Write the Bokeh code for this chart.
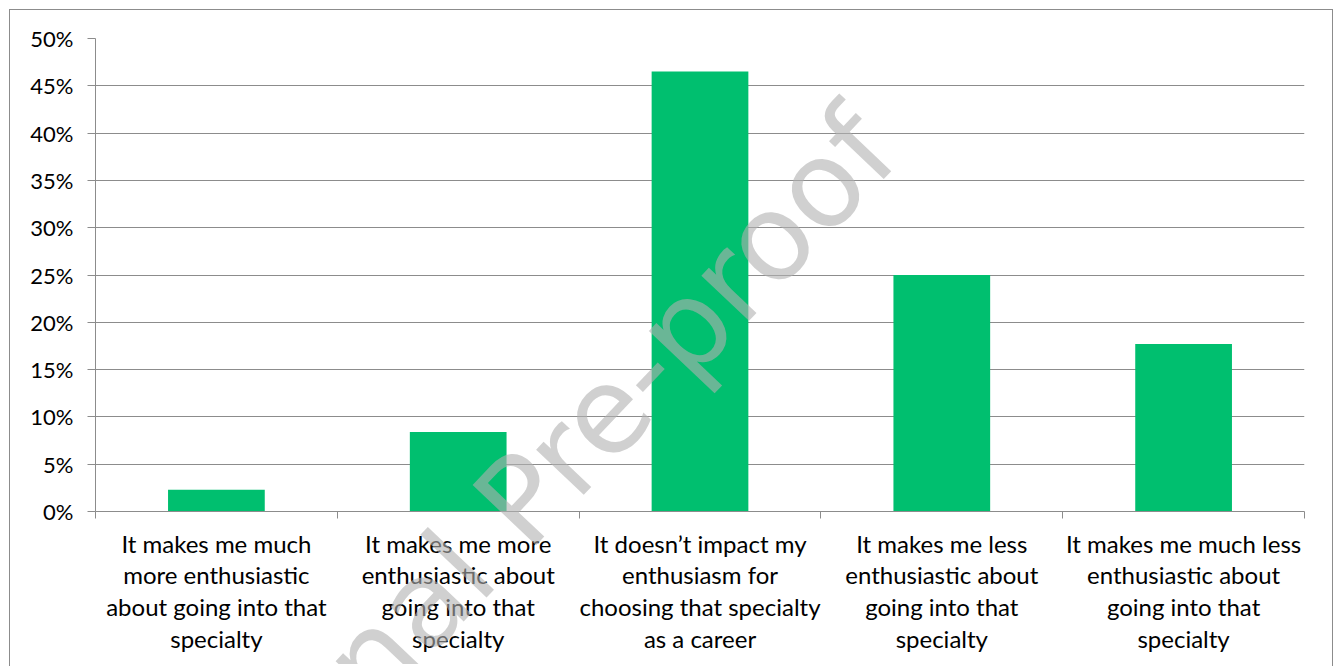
from bokeh.plotting import figure
from bokeh.models import Range1d, FixedTicker, PrintfTickFormatter, ColumnDataSource, Label
from bokeh.layouts import column
from bokeh.embed import file_html
from bokeh.resources import INLINE
import math

categories = [
    "It makes me much\nmore enthusiastic\nabout going into that\nspecialty",
    "It makes me more\nenthusiastic about\ngoing into that\nspecialty",
    "It doesn\u2019t impact my\nenthusiasm for\nchoosing that specialty\nas a career",
    "It makes me less\nenthusiastic about\ngoing into that\nspecialty",
    "It makes me much less\nenthusiastic about\ngoing into that\nspecialty",
]
values = [2.3, 8.4, 46.5, 25.0, 17.7]
y_ticks = [0, 5, 10, 15, 20, 25, 30, 35, 40, 45, 50]
watermark = "Journal Pre-proof"

FONT = "Lato"
GRAY = "#8c8c8c"
GREEN = "#00BF6F"

xs = [i + 0.5 for i in range(len(categories))]
src = ColumnDataSource(dict(x=xs, top=values))

fig = figure(width=1324, height=660, output_backend="svg", toolbar_location=None,
             x_range=Range1d(0, len(categories)), y_range=Range1d(0, 50),
             min_border_left=85, min_border_right=30, min_border_top=28, min_border_bottom=159)
fig.styles = {"margin-left": "9px", "margin-top": "9px", "border": "1px solid #8c8c8c"}
fig.outline_line_color = None
fig.background_fill_color = "white"
fig.border_fill_color = "white"

fig.vbar(x="x", top="top", width=0.4, bottom=0, source=src, fill_color=GREEN, line_color=None)

# y axis
fig.yaxis.ticker = FixedTicker(ticks=y_ticks, minor_ticks=[])
fig.yaxis.formatter = PrintfTickFormatter(format="%d%%")
fig.yaxis.axis_line_color = GRAY
fig.yaxis.major_tick_line_color = GRAY
fig.yaxis.major_tick_out = 8
fig.yaxis.major_tick_in = 0
fig.yaxis.minor_tick_line_color = None
fig.yaxis.major_label_standoff = 14
fig.yaxis.major_label_text_font = FONT
fig.yaxis.major_label_text_font_size = "22px"
fig.yaxis.major_label_text_color = "black"

# x axis
fig.xaxis.ticker = FixedTicker(ticks=xs, minor_ticks=list(range(len(categories) + 1)))
fig.xaxis.major_label_overrides = {x: c for x, c in zip(xs, categories)}
fig.xaxis.axis_line_color = GRAY
fig.xaxis.major_tick_line_color = None
fig.xaxis.major_tick_out = 0
fig.xaxis.major_tick_in = 0
fig.xaxis.minor_tick_line_color = GRAY
fig.xaxis.minor_tick_out = 7
fig.xaxis.minor_tick_in = 0
fig.xaxis.major_label_standoff = 10
fig.xaxis.major_label_text_font = FONT
fig.xaxis.major_label_text_font_size = "24px"
fig.xaxis.major_label_text_line_height = 1.1
fig.xaxis.major_label_text_color = "black"

fig.xgrid.grid_line_color = None
fig.ygrid.ticker = FixedTicker(ticks=y_ticks)
fig.ygrid.grid_line_color = GRAY
fig.ygrid.grid_line_width = 1

# transparent overlay page for the watermark (so it is not clipped to the plot frame)
ov = figure(width=1340, height=666, output_backend="svg", toolbar_location=None,
            x_range=Range1d(0, 1340), y_range=Range1d(666, 0),
            x_axis_type=None, y_axis_type=None, min_border=0)
ov.outline_line_color = None
ov.background_fill_color = None
ov.border_fill_color = None
ov.grid.visible = False
ov.styles = {"margin-top": "-671px"}
ov.add_layout(Label(x=486, y=493, text=watermark, angle=math.radians(46.5),
                    text_align="center", text_baseline="middle", text_font="DejaVu Sans",
                    text_font_size="120px", text_color="#b1b1b1", text_alpha=0.6))

p = column(fig, ov)
open("out.html", "w").write(file_html(p, INLINE))
